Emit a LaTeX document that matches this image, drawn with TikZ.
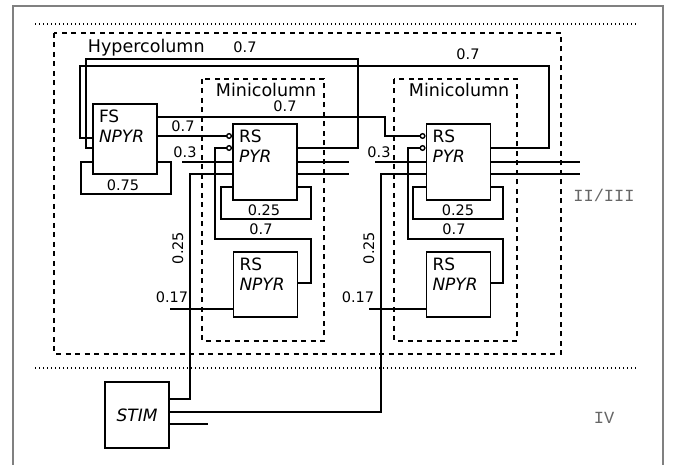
\documentclass[tikz,border=0pt]{standalone}
\usepackage{fontspec}
\setmainfont{DejaVu Sans}
\newfontfamily\layerfont{Liberation Mono}
\usetikzlibrary{arrows.meta,calc}

\begin{document}
\begin{tikzpicture}[x=1pt, y=-1pt, line width=1.9pt,
	cell/.style={draw, line width=1.9pt, minimum width=64pt, inner sep=0pt,
		font=\fontsize{17}{20}\selectfont},
	celltext/.style={anchor=north west, align=left, inner sep=0pt,
		xshift=6pt, yshift=-6pt, font=\fontsize{17}{20}\selectfont},
	weight/.style={anchor=base, inner sep=0pt, font=\fontsize{14.5}{16}\selectfont},
	title/.style={anchor=base west, inner sep=0pt, font=\fontsize{17.5}{20}\selectfont},
	layer/.style={anchor=base, inner sep=0pt, text=black!60,
		font=\layerfont\fontsize{17}{20}\selectfont},
	column/.style={line width=1.8pt, dash pattern=on 5pt off 4.5pt},
	border/.style={line width=1.6pt, dash pattern=on 1.4pt off 2.6pt},
	inhib/.style={-{Circle[open, length=6pt, width=6pt, line width=1.4pt]}}]

	\useasboundingbox (0,0) rectangle (673,465);

	% ---- frame and layer borders

	\draw[black!50, line width=1.8pt] (13,465) -- (13,6) -- (663,6) -- (663,465);
	\draw[border] (35,24) -- (638,24);
	\draw[border] (35,368) -- (638,368);

	\node[layer] at (604,202) {II/III};
	\node[layer] at (604,424) {IV};

	% ---- columns

	\draw[column] (54,33) rectangle (561,354);
	\draw[column] (202,79) rectangle (324,341);
	\draw[column] (394,79) rectangle (517,341);

	\node[title] at (87,53) {Hypercolumn};
	\node[title] at (215,97) {Minicolumn};
	\node[title] at (408,97) {Minicolumn};

	% ---- cells

	\node[cell, minimum height=70pt, label={[celltext]north west:{FS\\\textit{NPYR}}}] (fs) at (125,139) {};
	\node[cell, minimum height=76pt, label={[celltext]north west:{RS\\\textit{PYR}}}] (pyrA) at (265,162) {};
	\node[cell, minimum height=76pt, label={[celltext]north west:{RS\\\textit{PYR}}}] (pyrB) at (458.5,162) {};
	\node[cell, minimum height=65pt, label={[celltext]north west:{RS\\\textit{NPYR}}}] (npyrA) at (265.5,284.5) {};
	\node[cell, minimum height=65pt, label={[celltext]north west:{RS\\\textit{NPYR}}}] (npyrB) at (458.5,284.5) {};
	\node[cell, minimum height=66pt] (stim) at (137,415) {\textit{STIM}};

	% ---- free ends

	\coordinate (inA) at (182,162);
	\coordinate (inB) at (375,162);
	\coordinate (extA) at (170,309);
	\coordinate (extB) at (369,309);
	\coordinate (outA1) at (349,162);
	\coordinate (outA2) at (349,174);
	\coordinate (outB1) at (580,162);
	\coordinate (outB2) at (580,174);
	\coordinate (stimout) at (208,424);

	% ---- pyramidal to basket cell

	\draw (pyrA.east |- 0,148) -| (358,59) -| (86,148) -- (fs.west |- 0,148);
	\draw (pyrB.east |- 0,148) -| (549,66) -| (80,138) -- (fs.west |- 0,138);

	% ---- basket cell to pyramidal

	\draw[inhib] (fs.east |- 0,136) -- (pyrA.west |- 0,136);
	\draw[inhib] (fs.east |- 0,117) -| (385,136) -- (pyrB.west |- 0,136);

	% ---- local inhibition

	\draw[inhib] (npyrA.east |- 0,283) -| (311,239) -| (215,148) -- (pyrA.west |- 0,148);
	\draw[inhib] (npyrB.east |- 0,283) -| (503,239) -| (408,148) -- (pyrB.west |- 0,148);

	% ---- recurrent loops

	\draw (fs.west |- 0,162) -| (81,194) -| (171,162) -- (fs.east |- 0,162);
	\draw (pyrA.west |- 0,187) -| (221,219) -| (311,187) -- (pyrA.east |- 0,187);
	\draw (pyrB.west |- 0,187) -| (413,219) -| (503,187) -- (pyrB.east |- 0,187);

	% ---- inputs and outputs

	\draw (inA) -- (pyrA.west |- inA);
	\draw (inB) -- (pyrB.west |- inB);
	\draw (extA) -- (npyrA.west |- extA);
	\draw (extB) -- (npyrB.west |- extB);
	\draw (pyrA.east |- outA1) -- (outA1);
	\draw (pyrA.east |- outA2) -- (outA2);
	\draw (pyrB.east |- outB1) -- (outB1);
	\draw (pyrB.east |- outB2) -- (outB2);

	\draw (stim.east |- 0,399) -| (190,174) -- (pyrA.west |- 0,174);
	\draw (stim.east |- 0,412) -| (381,174) -- (pyrB.west |- 0,174);
	\draw (stim.east |- stimout) -- (stimout);

	% ---- weights

	\node[weight] at (245,53) {0.7};
	\node[weight] at (468,60) {0.7};
	\node[weight] at (285,112) {0.7};
	\node[weight] at (183,132) {0.7};
	\node[weight] at (185,158) {0.3};
	\node[weight] at (379,158) {0.3};
	\node[weight] at (123,191) {0.75};
	\node[weight] at (264,216) {0.25};
	\node[weight] at (458,216) {0.25};
	\node[weight] at (261,235) {0.7};
	\node[weight] at (454,235) {0.7};
	\node[weight] at (172,303) {0.17};
	\node[weight] at (358,303) {0.17};
	\node[weight, rotate=90] at (183,248) {0.25};
	\node[weight, rotate=90] at (374,248) {0.25};

\end{tikzpicture}
\end{document}
